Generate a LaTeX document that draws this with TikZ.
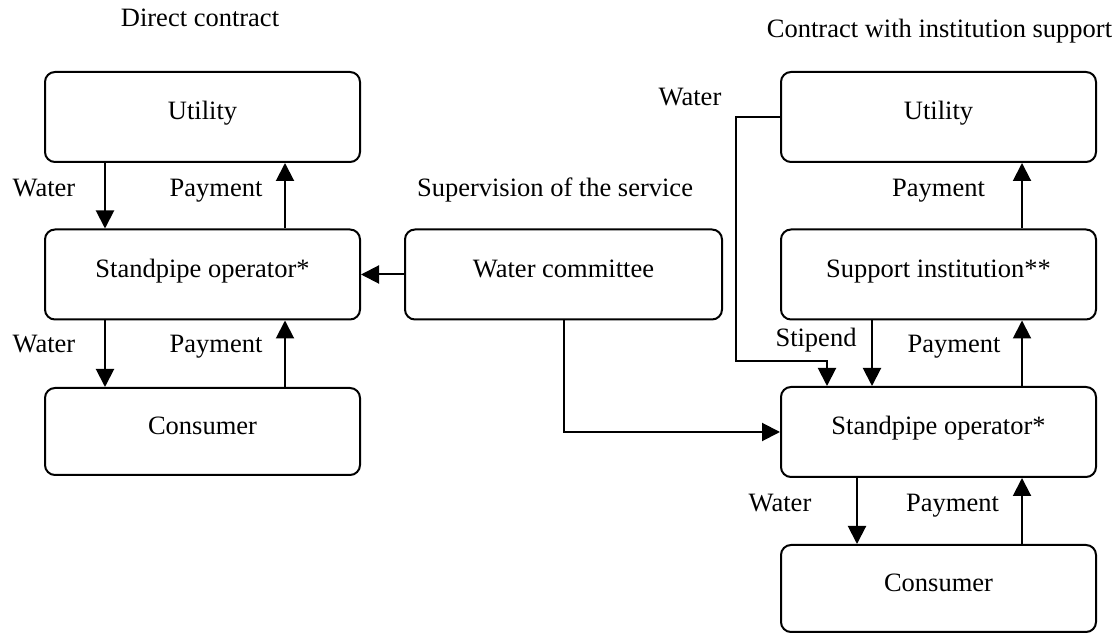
\documentclass[tikz,border=0pt]{standalone}
\usepackage{fontspec}
\setmainfont{Liberation Serif}
\usetikzlibrary{arrows.meta}
\begin{document}
\begin{tikzpicture}[x=0.5pt,y=-0.5pt,
  every node/.style={font=\fontsize{13.25}{16}\selectfont},
  box/.style={draw,line width=1pt,rounded corners=5pt,minimum width=157.5pt,minimum height=45pt,inner sep=0pt,text height=0.7em,text depth=0.4em},
  lbl/.style={anchor=base,inner sep=0pt},
  arr/.style={line width=1pt,-{Triangle[width=9pt,length=9pt]}},
  ln/.style={line width=1pt}]
\useasboundingbox (0,0) rectangle (1119,635);
% titles
\node[lbl] (t1) at (200,27) {Direct contract};
\node[lbl] (t2) at (555,197) {Supervision of the service};
\node[lbl] (t3) at (939.5,38) {Contract with institution support};
% left column
\node[box] (LU) at (202.5,117) {Utility};
\node[box] (LS) at (202.5,274.5) {Standpipe operator*};
\node[box,minimum height=43.5pt] (LC) at (202.5,431.5) {Consumer};
% committee
\node[box,minimum width=158.5pt] (WC) at (563.5,274.5) {Water committee};
% right column
\node[box] (RU) at (938.5,117) {Utility};
\node[box] (RSI) at (938.5,274.5) {Support institution**};
\node[box] (RS) at (938.5,432) {Standpipe operator*};
\node[box,minimum height=43.5pt] (RC) at (938.5,588.5) {Consumer};
% helper x positions
\coordinate (xa) at (105,0);
\coordinate (xb) at (285,0);
\coordinate (xc) at (827,0);
\coordinate (xd) at (872,0);
\coordinate (xe) at (857,0);
\coordinate (xf) at (1022,0);
\coordinate (wa) at (736,361);
% left connectors
\draw[arr] (LU.south -| xa) -- (LS.north -| xa);
\draw[arr] (LS.north -| xb) -- (LU.south -| xb);
\draw[arr] (LS.south -| xa) -- (LC.north -| xa);
\draw[arr] (LC.north -| xb) -- (LS.south -| xb);
% committee connectors
\draw[arr] (WC.west) -- (LS.east);
\draw[arr] (WC.south) |- (RS.west);
% right connectors
\draw[arr] (RU.west) -| (wa) -| (RS.north -| xc);
\draw[arr] (RSI.south -| xd) -- (RS.north -| xd);
\draw[arr] (RS.north -| xf) -- (RSI.south -| xf);
\draw[arr] (RSI.north -| xf) -- (RU.south -| xf);
\draw[arr] (RS.south -| xe) -- (RC.north -| xe);
\draw[arr] (RC.north -| xf) -- (RS.south -| xf);
% labels
\node[lbl] (l1) at (44,197) {Water};
\node[lbl] (l2) at (216,197) {Payment};
\node[lbl] (l3) at (44,353) {Water};
\node[lbl] (l4) at (216,353) {Payment};
\node[lbl] (l5) at (690,106) {Water};
\node[lbl] (l6) at (938.5,197) {Payment};
\node[lbl] (l7) at (816,347) {Stipend};
\node[lbl] (l8) at (954,353) {Payment};
\node[lbl] (l9) at (780,512) {Water};
\node[lbl] (l10) at (952.5,512) {Payment};
\end{tikzpicture}
\end{document}
